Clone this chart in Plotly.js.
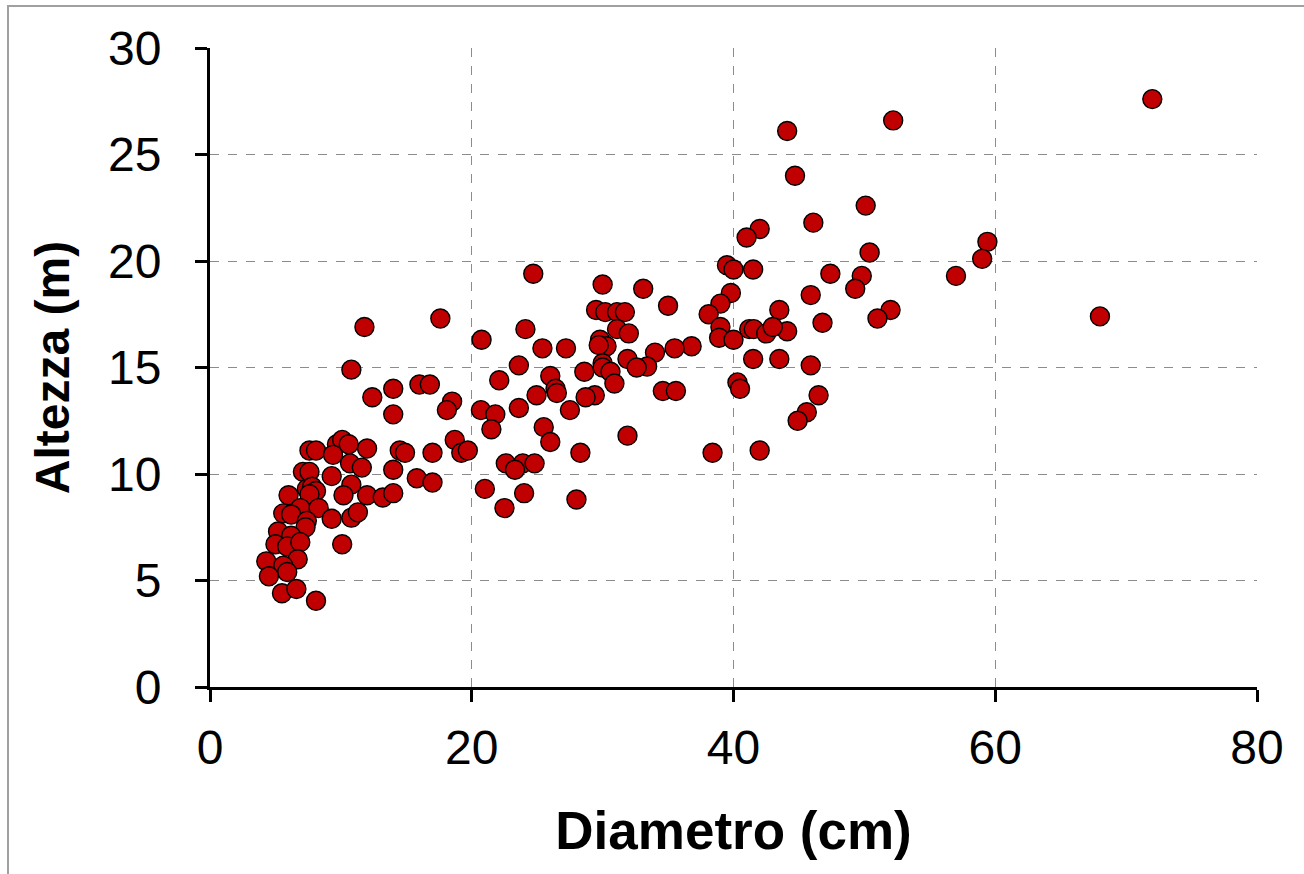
<!DOCTYPE html>
<html>
<head>
<meta charset="utf-8">
<script src="https://cdn.plot.ly/plotly-3.0.1.min.js"></script>
<style>
html,body{margin:0;padding:0;background:#fff;}
#chart{width:1304px;height:874px;}
#frame{position:absolute;left:7px;top:5px;right:0;bottom:0;border-left:2px solid #a0a0a0;border-top:2px solid #a0a0a0;pointer-events:none;}
</style>
</head>
<body>
<div id="chart"></div>
<div id="frame"></div>
<script>
// Diameter (cm)
const diametro = [
72.0, 52.2, 44.1, 44.7, 50.1, 46.1, 42.0, 41.0, 59.4, 50.4,
59.0, 39.5, 40.0, 41.5, 24.7, 47.4, 57.0, 49.8, 30.0, 49.3,
33.1, 39.8, 45.9, 39.0, 35.0, 43.5, 52.0, 29.5, 30.2, 31.1,
31.7, 38.1, 17.6, 51.0, 68.0, 46.8, 31.1, 39.0, 11.8, 24.1,
41.2, 41.55, 44.1, 42.5, 43.0, 32.0, 38.9, 40.0, 20.75, 29.8,
30.3, 29.7, 25.4, 27.2, 36.8, 35.5, 34.0, 31.9, 41.5, 43.5,
30.0, 30.0, 10.8, 23.6, 33.4, 32.6, 45.9, 26.0, 28.6, 30.6,
22.1, 16.0, 16.8, 30.9, 40.3, 14.0, 26.4, 34.6, 35.6, 40.5,
26.5, 12.4, 29.4, 28.7, 24.95, 46.5, 18.5, 23.6, 27.5, 18.1,
20.7, 45.6, 14.0, 21.8, 44.9, 25.5, 21.5, 26.0, 31.9, 18.7,
9.7, 10.1, 10.6, 7.6, 8.1, 12.0, 14.5, 14.9, 17.0, 28.3,
38.4, 42.0, 19.2, 19.7, 9.4, 10.7, 22.6, 23.9, 24.8, 11.6,
23.3, 14.0, 7.1, 7.6, 9.3, 15.8, 17.0, 21.0, 10.8, 7.4,
7.8, 8.1, 7.6, 6.0, 10.2, 12.0, 13.2, 14.0, 24.0, 28.0,
22.5, 6.9, 8.3, 5.6, 6.2, 7.4, 9.3, 10.8, 11.3, 7.3,
5.2, 6.2, 5.0, 5.9, 6.9, 10.1, 6.7, 4.3, 5.6, 5.9,
4.5, 5.5, 6.6, 8.1
];
// Height (m)
const altezza = [
27.6, 26.6, 26.1, 24.0, 22.6, 21.8, 21.5, 21.1, 20.9, 20.4,
20.1, 19.8, 19.6, 19.6, 19.4, 19.4, 19.3, 19.3, 18.9, 18.7,
18.7, 18.5, 18.4, 18.0, 17.9, 17.7, 17.7, 17.7, 17.6, 17.6,
17.6, 17.5, 17.3, 17.3, 17.4, 17.1, 16.8, 16.9, 16.9, 16.8,
16.8, 16.8, 16.7, 16.6, 16.9, 16.6, 16.4, 16.3, 16.3, 16.3,
16.0, 16.05, 15.9, 15.9, 16.0, 15.9, 15.7, 15.4, 15.4, 15.4,
15.2, 15.0, 14.9, 15.1, 15.05, 15.0, 15.1, 14.6, 14.8, 14.8,
14.4, 14.2, 14.2, 14.25, 14.3, 14.0, 14.0, 13.9, 13.9, 14.0,
13.8, 13.6, 13.7, 13.6, 13.7, 13.7, 13.4, 13.1, 13.0, 13.0,
13.0, 12.9, 12.8, 12.8, 12.5, 12.2, 12.1, 11.5, 11.8, 11.6,
11.4, 11.6, 11.4, 11.1, 11.1, 11.2, 11.1, 11.0, 11.0, 11.0,
11.0, 11.1, 11.0, 11.1, 10.9, 10.5, 10.5, 10.5, 10.5, 10.3,
10.2, 10.2, 10.1, 10.1, 9.9, 9.8, 9.6, 9.3, 9.5, 9.3,
9.4, 9.2, 9.05, 9.0, 9.0, 9.0, 8.9, 9.1, 9.1, 8.8,
8.4, 8.4, 8.4, 8.15, 8.1, 7.8, 7.9, 7.95, 8.2, 7.5,
7.3, 7.1, 6.7, 6.6, 6.8, 6.7, 6.0, 5.9, 5.7, 5.4,
5.2, 4.4, 4.6, 4.05
];
const xTicks = [0, 20, 40, 60, 80];
const yTicks = [0, 5, 10, 15, 20, 25, 30];

const fontFam = "Arial, 'Liberation Sans', sans-serif";

const trace = {
  type: 'scatter',
  mode: 'markers',
  x: diametro,
  y: altezza,
  marker: {size: 19, color: '#c00000', line: {color: '#000000', width: 1.4}},
  hoverinfo: 'x+y'
};

const layout = {
  width: 1304,
  height: 874,
  margin: {l: 210, r: 47, t: 48, b: 187},
  paper_bgcolor: '#ffffff',
  plot_bgcolor: '#ffffff',
  showlegend: false,
  font: {family: fontFam, color: '#000000'},
  xaxis: {
    range: [0, 80],
    tickvals: xTicks,
    ticktext: xTicks.map(String),
    showgrid: true,
    gridcolor: '#8c8c8c',
    gridwidth: 1,
    griddash: 'dash',
    zeroline: false,
    showline: true,
    linecolor: '#000000',
    linewidth: 3,
    ticks: 'outside',
    ticklen: 12,
    tickwidth: 3,
    tickcolor: '#000000',
    ticklabelstandoff: 4,
    tickfont: {family: fontFam, size: 48, color: '#000000'},
    title: {text: 'Diametro (cm)', font: {family: fontFam, size: 53, weight: 'bold', color: '#000000'}, standoff: 40}
  },
  yaxis: {
    range: [0, 30],
    tickvals: yTicks,
    ticktext: yTicks.map(String),
    showgrid: true,
    gridcolor: '#8c8c8c',
    gridwidth: 1,
    griddash: 'dash',
    zeroline: false,
    showline: true,
    linecolor: '#000000',
    linewidth: 3,
    ticks: 'outside',
    ticklen: 12,
    tickwidth: 3,
    tickcolor: '#000000',
    ticklabelstandoff: 24,
    tickfont: {family: fontFam, size: 48, color: '#000000'},
    title: {text: 'Altezza (m)', font: {family: fontFam, size: 48, weight: 'bold', color: '#000000'}, standoff: 24}
  }
};

Plotly.newPlot('chart', [trace], layout, {displayModeBar: false, staticPlot: true});
</script>
</body>
</html>
